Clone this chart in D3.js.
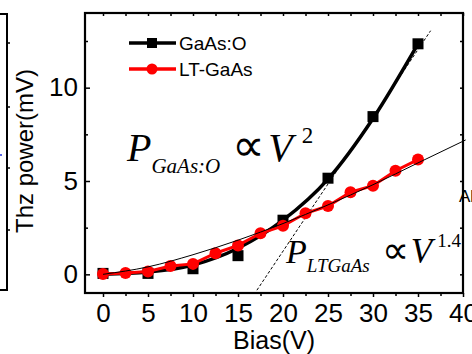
<!DOCTYPE html>
<html>
<head>
<meta charset="utf-8">
<script src="https://cdn.jsdelivr.net/npm/d3@7"></script>
<style>
  html, body { margin: 0; padding: 0; background: #fff; }
  svg { display: block; }
  text { font-family: "Liberation Sans", Arial, sans-serif; }
  .math { font-family: "Liberation Serif", "Times New Roman", serif; font-style: italic; }
</style>
</head>
<body>
<div id="chart"></div>
<script>
// Bias voltage (V) for each sample
const biasGaAsO = [0, 5, 10, 15, 20, 25, 30, 35];
const powerGaAsO = [0.05, 0.05, 0.3, 1.0, 2.9, 5.15, 8.45, 12.35];

const biasLT = [0, 2.5, 5, 7.5, 10, 12.5, 15, 17.5, 20, 22.5, 25, 27.5, 30, 32.5, 35];
const powerLT = [0.02, 0.07, 0.15, 0.45, 0.56, 1.13, 1.55, 2.2, 2.6, 3.27, 3.66, 4.4, 4.75, 5.55, 6.15];

// Quadratic fit curve for GaAs:O
const fitQuadBias = [0, 5, 10, 15, 20, 25, 30, 35];
const fitQuadPower = [0.0, 0.12, 0.5, 1.4, 2.9, 5.1, 8.35, 12.35];

// V^1.4 fit for LT-GaAs (thin line)
const fitPowBias = [0, 5, 10, 15, 20, 25, 30, 35, 40.3];
const fitPowPower = [0.0, 0.4, 1.05, 1.83, 2.72, 3.72, 4.8, 5.97, 7.2];

// Dashed asymptote line
const dashBias = [17.1, 36.4];
const dashPower = [-0.85, 13.05];

const xMajor = [0, 5, 10, 15, 20, 25, 30, 35, 40];
const xMinor = [2.5, 7.5, 12.5, 17.5, 22.5, 27.5, 32.5, 37.5];
const yMajor = [0, 5, 10];
const yMinor = [2.5, 7.5, 12.5];

const W = 472, H = 354;
const L = 85, R = 463, T = 13, B = 293;

const svg = d3.select("#chart").append("svg").attr("width", W).attr("height", H);

const x = d3.scaleLinear().domain([-2, 40]).range([L, R]);
const y = d3.scaleLinear().domain([-1, 14]).range([B, T]);

// Neighbouring panel edge on the left
const lp = svg.append("g").attr("stroke", "#000").attr("stroke-width", 2).attr("fill", "none");
lp.append("path").attr("d", "M0,14H7V290H0");
[43, 107, 168, 230].forEach(v => lp.append("line").attr("x1", 7).attr("x2", 10).attr("y1", v).attr("y2", v).attr("stroke-width", 1.5));
svg.append("line").attr("x1", 0).attr("x2", 2).attr("y1", 155).attr("y2", 155).attr("stroke", "#2233dd").attr("stroke-width", 1.5);

// Neighbouring panel label on the right
svg.append("text").attr("x", 459).attr("y", 202).attr("font-size", 17).text("Al");

// Axes
function styleAxis(g) {
  g.select(".domain").remove();
  g.selectAll(".tick line").attr("stroke", "#000").attr("stroke-width", 1.5);
  g.selectAll(".tick text").attr("font-size", 26).attr("fill", "#000")
    .attr("font-family", "'Liberation Sans', Arial, sans-serif");
}

svg.append("g").attr("transform", `translate(0,${B})`)
  .call(d3.axisBottom(x).tickValues(xMajor).tickSize(4).tickPadding(7).tickFormat(d3.format("d")))
  .call(styleAxis);
svg.append("g").attr("transform", `translate(0,${B})`)
  .call(d3.axisBottom(x).tickValues(xMinor).tickSize(3).tickFormat(""))
  .call(styleAxis);
svg.append("g").attr("transform", `translate(0,${T})`)
  .call(d3.axisBottom(x).tickValues(xMajor.concat(xMinor)).tickSize(3).tickFormat(""))
  .call(styleAxis);

svg.append("g").attr("transform", `translate(${L},0)`)
  .call(d3.axisRight(y).tickValues(yMajor).tickSize(5).tickFormat(""))
  .call(styleAxis);
svg.append("g").attr("transform", `translate(${L},0)`)
  .call(d3.axisLeft(y).tickValues(yMajor).tickSize(0).tickPadding(7).tickFormat(d3.format("d")))
  .call(styleAxis);
svg.append("g").attr("transform", `translate(${L},0)`)
  .call(d3.axisRight(y).tickValues(yMinor).tickSize(3).tickFormat(""))
  .call(styleAxis);
svg.append("g").attr("transform", `translate(${R},0)`)
  .call(d3.axisLeft(y).tickValues(yMajor.concat(yMinor)).tickSize(3).tickFormat(""))
  .call(styleAxis);

// Frame
svg.append("rect").attr("x", L).attr("y", T).attr("width", R - L).attr("height", B - T)
  .attr("fill", "none").attr("stroke", "#000").attr("stroke-width", 2.2);

// Axis titles
svg.append("text").attr("x", x(19)).attr("y", 349).attr("text-anchor", "middle")
  .attr("font-size", 25).text("Bias(V)");
svg.append("text").attr("transform", `translate(33,151) rotate(-90)`).attr("text-anchor", "middle")
  .attr("font-size", 24).text("Thz power(mV)");

const plot = svg.append("g");
const zip = (a, b) => a.map((v, i) => [v, b[i]]);

// Dashed line
plot.append("path").datum(zip(dashBias, dashPower))
  .attr("d", d3.line().x(d => x(d[0])).y(d => y(d[1])))
  .attr("fill", "none").attr("stroke", "#000").attr("stroke-width", 1).attr("stroke-dasharray", "3,2");

// GaAs:O fit curve
plot.append("path").datum(zip(fitQuadBias, fitQuadPower))
  .attr("d", d3.line().curve(d3.curveMonotoneX).x(d => x(d[0])).y(d => y(d[1])))
  .attr("fill", "none").attr("stroke", "#000").attr("stroke-width", 3.5);

plot.selectAll("rect.sq").data(zip(biasGaAsO, powerGaAsO)).join("rect")
  .attr("class", "sq")
  .attr("x", d => x(d[0]) - 5.5).attr("y", d => y(d[1]) - 5.5)
  .attr("width", 11).attr("height", 11).attr("fill", "#000");

// LT-GaAs
plot.append("path").datum(zip(biasLT, powerLT))
  .attr("d", d3.line().x(d => x(d[0])).y(d => y(d[1])))
  .attr("fill", "none").attr("stroke", "#ff0000").attr("stroke-width", 3);

plot.selectAll("circle.pt").data(zip(biasLT, powerLT)).join("circle")
  .attr("class", "pt")
  .attr("cx", d => x(d[0])).attr("cy", d => y(d[1])).attr("r", 6).attr("fill", "#ff0000");

// V^1.4 fit line
plot.append("path").datum(zip(fitPowBias, fitPowPower))
  .attr("d", d3.line().curve(d3.curveMonotoneX).x(d => x(d[0])).y(d => y(d[1])))
  .attr("fill", "none").attr("stroke", "#000").attr("stroke-width", 1);

// Legend
const legend = [
  { label: "GaAs:O", color: "#000", shape: "square", y: 43 },
  { label: "LT-GaAs", color: "#ff0000", shape: "circle", y: 69 }
];
legend.forEach(e => {
  svg.append("line").attr("x1", 129).attr("x2", 176).attr("y1", e.y).attr("y2", e.y)
    .attr("stroke", e.color).attr("stroke-width", 3.5);
  if (e.shape === "square") {
    svg.append("rect").attr("x", 147).attr("y", e.y - 5).attr("width", 10).attr("height", 10).attr("fill", e.color);
  } else {
    svg.append("circle").attr("cx", 152).attr("cy", e.y).attr("r", 5.5).attr("fill", e.color);
  }
  svg.append("text").attr("x", 179).attr("y", e.y + 7).attr("font-size", 19).text(e.label);
});

// Power-law annotations
const a1 = svg.append("text").attr("class", "math").attr("x", 127).attr("y", 161);
a1.append("tspan").attr("font-size", 40).text("P");
a1.append("tspan").attr("font-size", 21).attr("dy", 12).text("GaAs:O");
a1.append("tspan").attr("font-size", 46).attr("font-style", "normal").attr("dy", -12).attr("dx", 12).text("\u221D");
a1.append("tspan").attr("font-size", 40).attr("dx", 3).text("V");
a1.append("tspan").attr("font-size", 23).attr("font-style", "normal").attr("dy", -18).attr("dx", 9).text("2");

const a2 = svg.append("text").attr("class", "math").attr("x", 286).attr("y", 263);
a2.append("tspan").attr("font-size", 34).text("P");
a2.append("tspan").attr("font-size", 19).attr("dy", 9).text("LTGaAs");
a2.append("tspan").attr("font-size", 38).attr("font-style", "normal").attr("dy", -9).attr("dx", 12).text("\u221D");
a2.append("tspan").attr("font-size", 35).attr("dx", 2).text("V");
a2.append("tspan").attr("font-size", 19).attr("font-style", "normal").attr("dy", -16).attr("dx", 5).text("1.4");
</script>
</body>
</html>
